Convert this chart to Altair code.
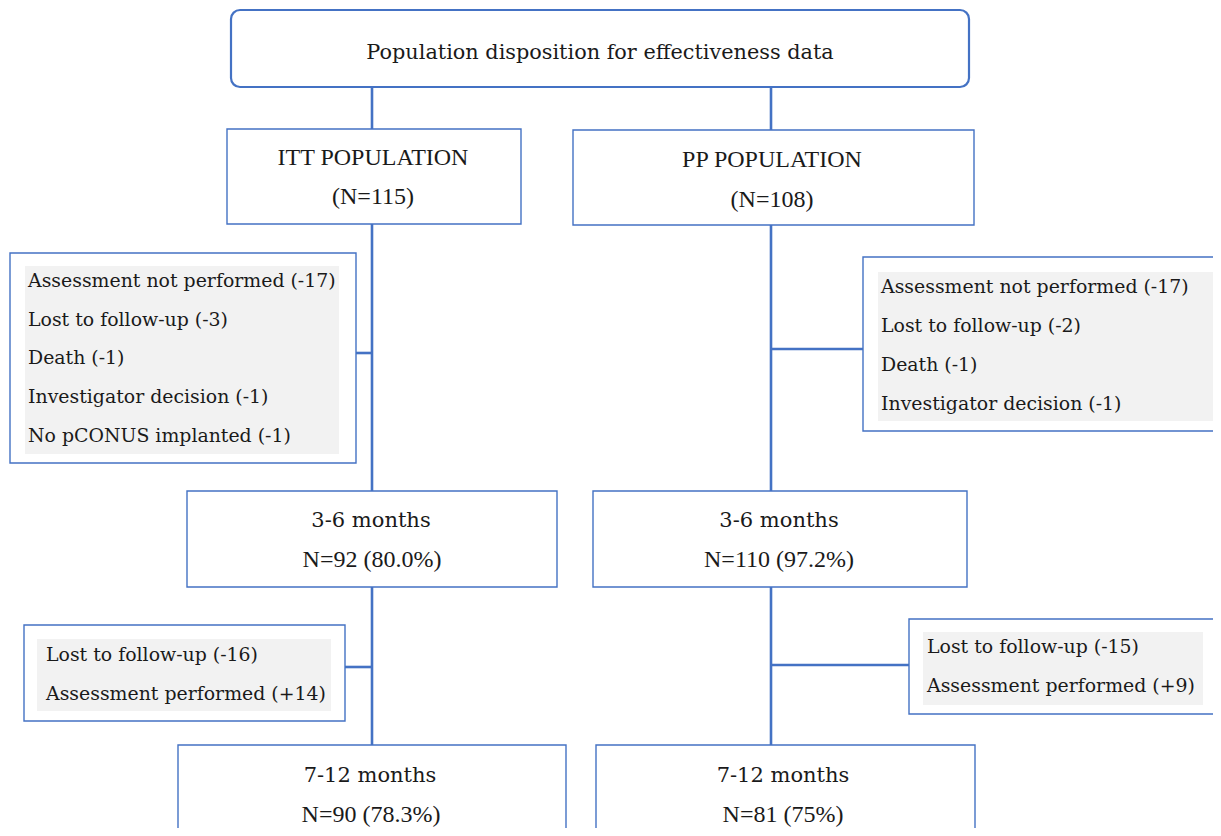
import altair as alt
import pandas as pd

# ---- content ----
title_text = ["Population disposition for effectiveness data"]
itt_lines = ["ITT POPULATION", "(N=115)"]
pp_lines = ["PP POPULATION", "(N=108)"]
itt_36 = ["3-6 months", "N=92 (80.0%)"]
pp_36 = ["3-6 months", "N=110 (97.2%)"]
itt_712 = ["7-12 months", "N=90 (78.3%)"]
pp_712 = ["7-12 months", "N=81 (75%)"]
excl1_itt = ["Assessment not performed (-17)", "Lost to follow-up (-3)", "Death (-1)",
             "Investigator decision (-1)", "No pCONUS implanted (-1)"]
excl1_pp = ["Assessment not performed (-17)", "Lost to follow-up (-2)", "Death (-1)",
            "Investigator decision (-1)"]
excl2_itt = ["Lost to follow-up (-16)", "Assessment performed (+14)"]
excl2_pp = ["Lost to follow-up (-15)", "Assessment performed (+9)"]

# ---- layout (page pixel coordinates) ----
BLUE = "#4472C4"
boxes = pd.DataFrame([
    dict(x0=227, x1=521, y0=129, y1=224),
    dict(x0=573, x1=974, y0=130, y1=225),
    dict(x0=10, x1=356, y0=253, y1=463),
    dict(x0=863, x1=1240, y0=257, y1=431),
    dict(x0=187, x1=557, y0=491, y1=587),
    dict(x0=593, x1=967, y0=491, y1=587),
    dict(x0=24, x1=345, y0=625, y1=721),
    dict(x0=909, x1=1219, y0=619, y1=714),
    dict(x0=178, x1=566, y0=745, y1=880),
    dict(x0=596, x1=975, y0=745, y1=880),
])
top_box = pd.DataFrame([dict(x0=231, x1=969, y0=10, y1=87)])
grays = pd.DataFrame([
    dict(x0=25, x1=339, y0=266, y1=454),
    dict(x0=878, x1=1213, y0=272, y1=421),
    dict(x0=37, x1=331, y0=639, y1=711),
    dict(x0=923, x1=1203, y0=632, y1=705),
])
conn = pd.DataFrame([
    dict(x0=372, x1=372, y0=87, y1=129),
    dict(x0=372, x1=372, y0=224, y1=491),
    dict(x0=372, x1=372, y0=587, y1=745),
    dict(x0=771, x1=771, y0=87, y1=130),
    dict(x0=771, x1=771, y0=225, y1=491),
    dict(x0=771, x1=771, y0=587, y1=745),
    dict(x0=356, x1=372, y0=353, y1=353),
    dict(x0=771, x1=863, y0=349, y1=349),
    dict(x0=345, x1=372, y0=667, y1=667),
    dict(x0=771, x1=909, y0=665, y1=665),
])

def block(lines, x, y0, step):
    return [dict(t=s, x=x, y=y0 + i * step) for i, s in enumerate(lines)]

SERIF_WIDE = "DejaVu Serif"
SERIF_NARROW = "Liberation Serif"

title_df = pd.DataFrame(block(title_text, 600, 53, 0))
months_df = pd.DataFrame(
    block(itt_36[:1], 371, 521, 0) + block(pp_36[:1], 779, 521, 0)
    + block(itt_712[:1], 370, 776, 0) + block(pp_712[:1], 783, 776, 0)
)
counts_df = pd.DataFrame(
    block(itt_lines, 373, 158, 39) + block(pp_lines, 772, 160, 40)
    + block(itt_36[1:], 372, 560, 0) + block(pp_36[1:], 779, 560, 0)
    + block(itt_712[1:], 371, 815, 0) + block(pp_712[1:], 783, 815, 0)
)
left_txt = pd.DataFrame(
    block(excl1_itt, 28, 281, 38.7)
    + block(excl1_pp, 881, 287, 39)
    + block(excl2_itt, 46, 655, 39)
    + block(excl2_pp, 927, 647, 39)
)

W, H = 1205, 820
xs = alt.Scale(domain=[8, 8 + W], nice=False, zero=False)
ys = alt.Scale(domain=[8, 8 + H], nice=False, zero=False, reverse=True)
X = lambda f: alt.X(f, type="quantitative", scale=xs, axis=None)
Y = lambda f: alt.Y(f, type="quantitative", scale=ys, axis=None)

box_layer = alt.Chart(boxes).mark_rect(
    fill="white", stroke=BLUE, strokeWidth=1.4, clip=True
).encode(x=X("x0"), x2="x1", y=Y("y0"), y2="y1")

top_layer = alt.Chart(top_box).mark_rect(
    fill="white", stroke=BLUE, strokeWidth=2.2, cornerRadius=9
).encode(x=X("x0"), x2="x1", y=Y("y0"), y2="y1")

gray_layer = alt.Chart(grays).mark_rect(
    fill="#F2F2F2", clip=True
).encode(x=X("x0"), x2="x1", y=Y("y0"), y2="y1")

conn_layer = alt.Chart(conn).mark_rule(
    color=BLUE, strokeWidth=2.6
).encode(x=X("x0"), x2="x1", y=Y("y0"), y2="y1")

def text_layer(df, font, size, align):
    return alt.Chart(df).mark_text(
        color="#1a1a1a", align=align, baseline="middle", font=font, fontSize=size
    ).encode(x=X("x"), y=Y("y"), text="t:N")

chart = alt.layer(
    conn_layer, box_layer, top_layer, gray_layer,
    text_layer(title_df, SERIF_WIDE, 20.8, "center"),
    text_layer(months_df, SERIF_WIDE, 21, "center"),
    text_layer(counts_df, SERIF_NARROW, 24, "center"),
    text_layer(left_txt, SERIF_WIDE, 18.9, "left"),
).properties(
    width=W, height=H, padding=0, background="white",
    autosize=alt.AutoSizeParams(type="none")
).configure_view(stroke="transparent", strokeWidth=0)

chart.save("out.html", embed_options={"renderer": "svg", "actions": False})
